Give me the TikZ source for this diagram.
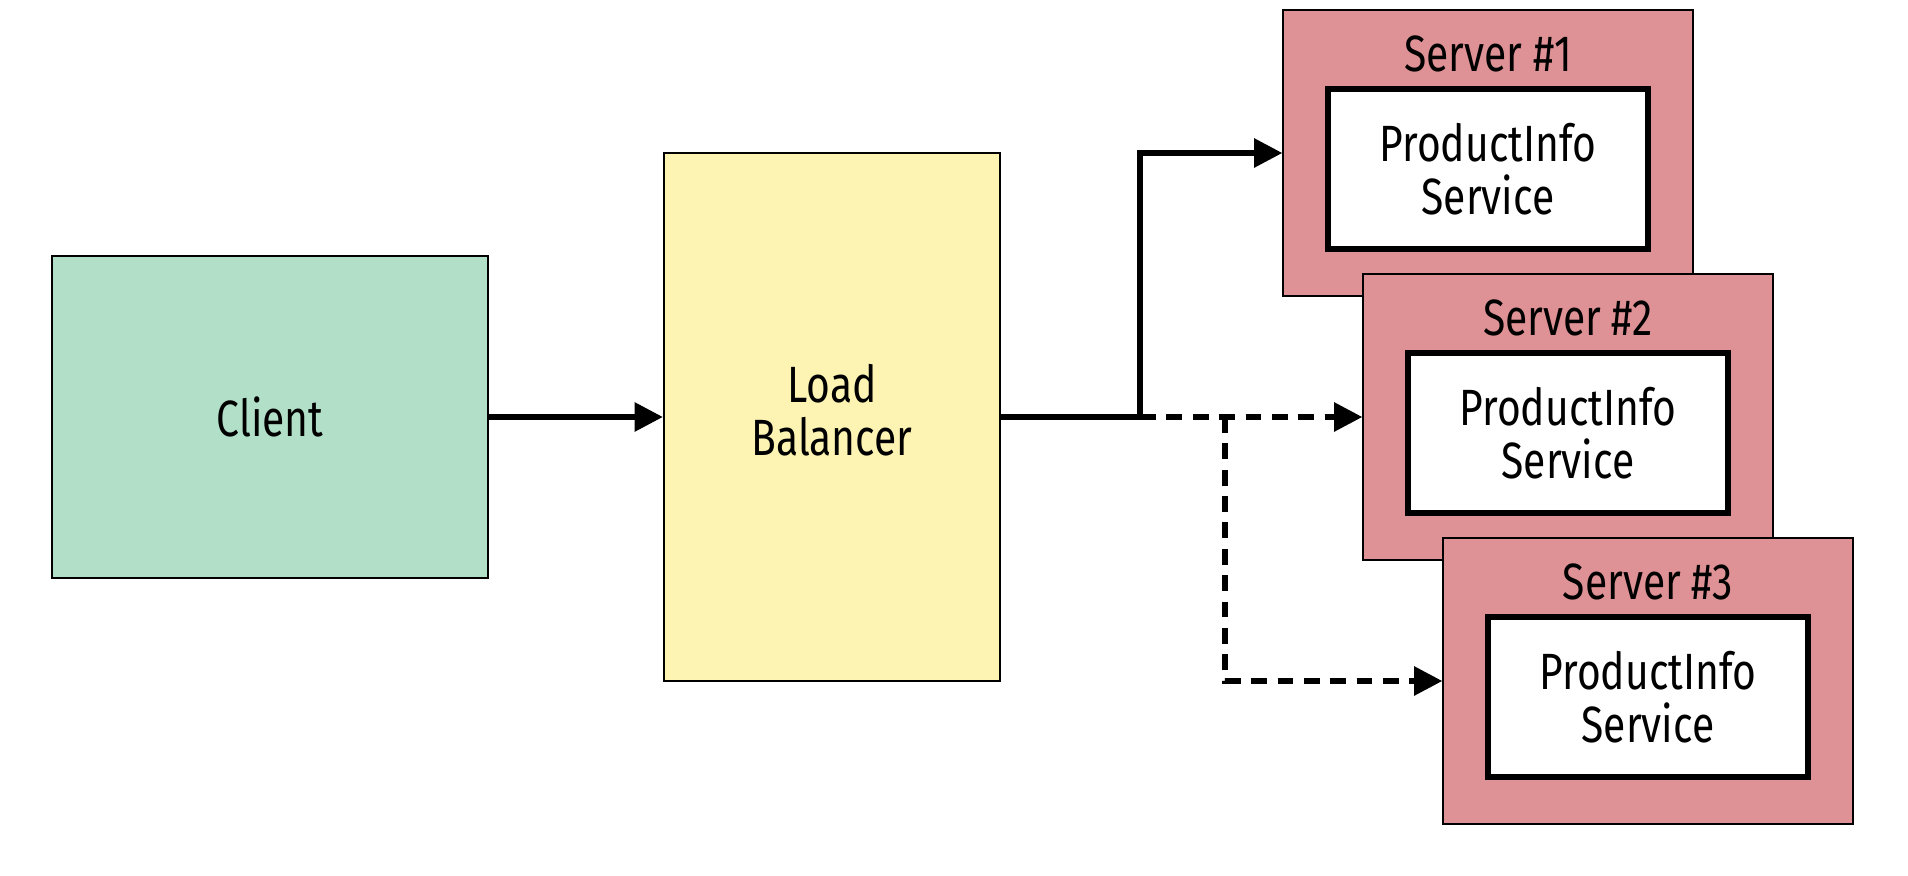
\documentclass[tikz,border=0pt]{standalone}
\usepackage{fontspec}
\setmainfont{Fira Sans}[FakeStretch=0.8]
\usetikzlibrary{arrows.meta}

\definecolor{clientfill}{RGB}{178,223,199}
\definecolor{balancerfill}{RGB}{253,243,178}
\definecolor{serverfill}{RGB}{223,146,150}

\tikzset{
  box/.style={draw, line width=0.6pt, inner sep=0pt, align=center},
  svcbox/.style={draw, fill=white, line width=1.6pt, inner sep=0pt, align=center,
    minimum width=3.2cm, minimum height=1.6cm},
  srvbox/.style={box, fill=serverfill, minimum width=4.09cm, minimum height=2.86cm},
  link/.style={line width=1.5pt, -{Triangle[length=8pt,width=8pt]}},
  maybe/.style={link, dash pattern=on 4.5pt off 3pt}
}

\begin{document}
\begin{tikzpicture}[x=0.01cm,y=-0.01cm,line join=miter]
  \fontsize{14.5}{15}\selectfont
  \useasboundingbox (0,0) rectangle (1908,876);

  % --- client e load balancer
  \node[box, fill=clientfill, minimum width=4.35cm, minimum height=3.22cm] (client) at (270,417) {Client};
  \node[box, fill=balancerfill, minimum width=3.36cm, minimum height=5.28cm] (lb) at (832,417) {};
  \node[align=center] (lbtext) at (832,410) {Load\\Balancer};

  % --- i tre server, sfalsati in diagonale
  \node[srvbox] (srv1) at (1488,153) {};
  \node[anchor=base] (title1) at (1488,72) {Server \#1};
  \node[svcbox] (svc1) at (1488,169) {ProductInfo\\Service};

  \node[srvbox] (srv2) at (1568,417) {};
  \node[anchor=base] (title2) at (1568,336) {Server \#2};
  \node[svcbox] (svc2) at (1568,433) {ProductInfo\\Service};

  \node[srvbox] (srv3) at (1648,681) {};
  \node[anchor=base] (title3) at (1648,600) {Server \#3};
  \node[svcbox] (svc3) at (1648,697) {ProductInfo\\Service};

  % --- punti di diramazione
  \coordinate (split) at (1140,417);
  \coordinate (branch) at (1225,417);

  % --- collegamenti
  \draw[link] (client.east) -- (lb.west);
  \draw[link] (lb.east) -- (split) |- (srv1.west);
  \draw[maybe] (split) -- (srv2.west);
  \draw[maybe] (branch) |- (srv3.west);
\end{tikzpicture}
\end{document}
